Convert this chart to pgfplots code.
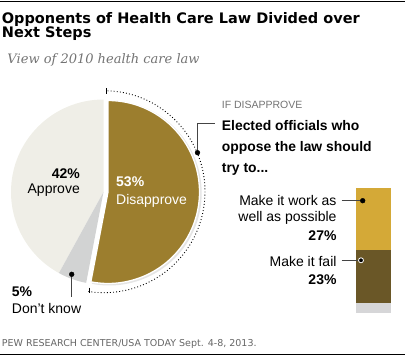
\documentclass[border=0pt]{standalone}
\usepackage{pgfplots}
\pgfplotsset{compat=1.18}
\usepackage{fontspec}
\setmainfont{Liberation Sans}
\newfontfamily\titlefont{DejaVu Sans}
\newfontfamily\subfont{DejaVu Serif}
\newfontfamily\srcfont{DejaVu Sans}
\definecolor{dis}{HTML}{9C7E2E}
\definecolor{appr}{HTML}{EFEEE7}
\definecolor{dk}{HTML}{D2D3D3}
\definecolor{bargold}{HTML}{D4A937}
\definecolor{bardark}{HTML}{6A5727}
\definecolor{bargray}{HTML}{D6D6D8}
\definecolor{leader}{HTML}{444444}
% pie values (percent)
\def\pApprove{42}
\def\pDisapprove{53}
\def\pDK{5}
\tikzset{lab/.style={inner sep=0pt, font=\fontsize{14}{16}\selectfont},
         labb/.style={inner sep=0pt, font=\fontsize{14}{16}\selectfont\bfseries}}
\begin{document}
\begin{tikzpicture}
\useasboundingbox (0,0) rectangle (405pt,359pt);
% stacked bar (If disapprove)
\begin{axis}[at={(356pt,46.3pt)}, anchor=south west, scale only axis,
  width=34.7pt, height=124.4pt, xmin=-0.5, xmax=0.5, ymin=0, ymax=54,
  ybar stacked, bar width=34.7pt, axis lines=none, ticks=none, clip=false]
\addplot[fill=bargray, draw=none] coordinates {(0,4)};
\addplot[fill=bardark, draw=none] coordinates {(0,23)};
\addplot[fill=bargold, draw=none] coordinates {(0,27)};
\end{axis}
% main canvas axis in pixel units
\begin{axis}[at={(0pt,0pt)}, anchor=south west, scale only axis,
  width=405pt, height=359pt, xmin=0, xmax=405, ymin=0, ymax=359,
  y dir=reverse, axis lines=none, ticks=none, clip=false]
\pgfmathsetmacro{\aA}{90+\pApprove*3.6}
\pgfmathsetmacro{\aK}{\aA+\pDK*3.6}
\pgfmathsetmacro{\aD}{90-\pDisapprove*3.6}
% approve and don't know
\fill[appr] (axis cs:103.5,192) -- ++(90:92.5pt) arc[start angle=90, end angle=\aA, radius=92.5pt] -- cycle;
\fill[dk] (axis cs:103.5,192) -- ++(\aA:92.5pt) arc[start angle=\aA, end angle=\aK, radius=92.5pt] -- cycle;
% disapprove, exploded, with faint shadow
\fill[black, opacity=0.10] (axis cs:109.2,193) -- ++(90:92.5pt) arc[start angle=90, end angle=\aD, radius=92.5pt] -- cycle;
\filldraw[fill=dis, draw=white, line width=1.3pt] (axis cs:108,192) -- ++(90:91.5pt) arc[start angle=90, end angle=\aD, radius=91.5pt] -- cycle;
% dotted arc
\draw[line width=0.9pt, dash pattern=on 0.9pt off 2.2pt] ([shift={(88:101pt)}]axis cs:104,191.7) arc[start angle=88, end angle=-99.7, radius=101pt];
\draw[line width=0.8pt] (axis cs:106.8,88) -- (axis cs:106.8,94);
\draw[line width=0.8pt] (axis cs:89.3,287.7) -- (axis cs:89.3,293);
% leaders
\draw[leader, line width=0.8pt] (axis cs:197.5,152.7) -- (axis cs:197.5,123.3) -- (axis cs:215,123.3);
\draw[leader, line width=0.8pt] (axis cs:71.7,274.3) -- (axis cs:71.7,297);
\draw[leader, line width=0.8pt] (axis cs:341.7,200.7) -- (axis cs:362.7,200.7);
\draw[leader, line width=0.8pt] (axis cs:341.7,260.3) -- (axis cs:361,260.3);
\addplot[only marks, mark=*, mark size=2.4pt, black] coordinates {(197.5,152.7) (71.7,274.3) (362.7,200.7)};
\addplot[only marks, mark=*, mark size=2.5pt, mark options={fill=black, draw=white, line width=0.8pt}] coordinates {(361,260.3)};
% rules
\draw[black, line width=1.5pt] (axis cs:0,1.5) -- (axis cs:405,1.5);
\draw[black, line width=1.5pt] (axis cs:0,354.3) -- (axis cs:405,354.3);
% title
\node[inner sep=0pt, anchor=base west, font=\titlefont\bfseries\fontsize{14.5}{14}\selectfont] at (axis cs:1.7,23.3) {Opponents of Health Care Law Divided over};
\node[inner sep=0pt, anchor=base west, font=\titlefont\bfseries\fontsize{14.5}{14}\selectfont] at (axis cs:1.7,37) {Next Steps};
\node[inner sep=0pt, anchor=base west, text=black!55, font=\subfont\itshape\fontsize{13}{14}\selectfont] at (axis cs:7.3,63.3) {View of 2010 health care law};
% pie labels
\node[labb, anchor=base east] at (axis cs:80,178.3) {42\%};
\node[lab, anchor=base east] at (axis cs:80,193.3) {Approve};
\node[labb, anchor=base west, text=white] at (axis cs:116,186.7) {53\%};
\node[lab, anchor=base west, text=white] at (axis cs:116,204) {Disapprove};
\node[labb, anchor=base west] at (axis cs:11.7,296.7) {5\%};
\node[lab, anchor=base west] at (axis cs:11.7,313) {Don’t know};
% right side header
\node[inner sep=0pt, anchor=base west, text=black!55, font=\fontsize{10.5}{12}\selectfont] at (axis cs:221.7,108.3) {IF DISAPPROVE};
\node[inner sep=0pt, anchor=base west, font=\fontsize{13.9}{16}\selectfont\bfseries] at (axis cs:221.7,130) {Elected officials who};
\node[inner sep=0pt, anchor=base west, font=\fontsize{13.9}{16}\selectfont\bfseries] at (axis cs:221.7,151.2) {oppose the law should};
\node[inner sep=0pt, anchor=base west, font=\fontsize{13.9}{16}\selectfont\bfseries] at (axis cs:221.7,172.4) {try to...};
% bar labels
\node[lab, anchor=base east] at (axis cs:336.7,205.7) {Make it work as};
\node[lab, anchor=base east] at (axis cs:336.7,221.7) {well as possible};
\node[labb, anchor=base east] at (axis cs:336.7,240.7) {27\%};
\node[lab, anchor=base east] at (axis cs:336.7,266) {Make it fail};
\node[labb, anchor=base east] at (axis cs:336.7,284.3) {23\%};
% source
\node[inner sep=0pt, anchor=base west, text=black!60, font=\srcfont\fontsize{9.5}{11}\selectfont] at (axis cs:1.7,346.5) {PEW RESEARCH CENTER/USA TODAY Sept. 4-8, 2013.};
\end{axis}
\end{tikzpicture}
\end{document}
